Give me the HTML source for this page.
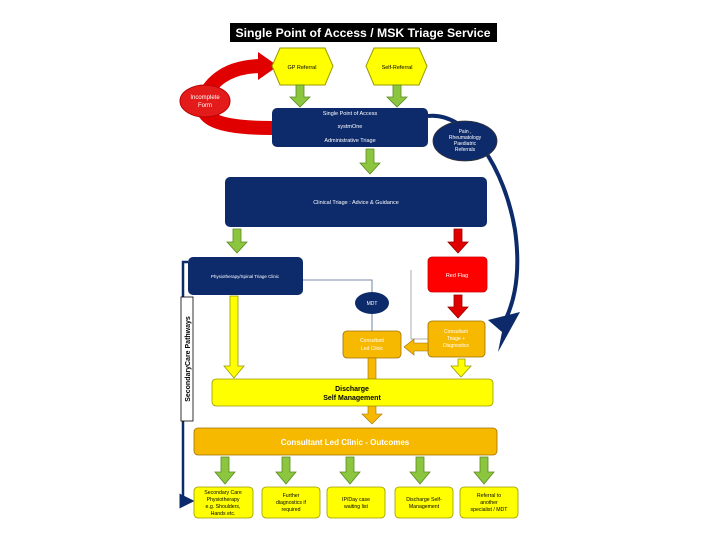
<!DOCTYPE html>
<html><head><meta charset="utf-8"><style>
html,body{margin:0;padding:0;background:#fff;}
svg{display:block;font-family:"Liberation Sans",Arial,sans-serif;}
</style></head><body>
<svg width="720" height="540" viewBox="0 0 720 540" xmlns="http://www.w3.org/2000/svg">
<defs>
<marker id="nav" markerWidth="6" markerHeight="6" refX="5" refY="3" orient="auto"><path d="M0,0L6,3L0,6z" fill="#0d2b6b"/></marker>
</defs>
<rect width="720" height="540" fill="#fff"/>
<rect x="230" y="23" width="267" height="19" fill="#000"/>
<text x="363" y="37" fill="#fff" font-size="12" font-weight="bold" text-anchor="middle" textLength="255" lengthAdjust="spacingAndGlyphs">Single Point of Access / MSK Triage Service</text>

<path d="M272,128 C220,128 190,120 208,90 C222,70 245,66 262,66" fill="none" stroke="#e00000" stroke-width="14"/>
<path d="M258,52 L278,66 L258,80 z" fill="#e00000"/>
<ellipse cx="205" cy="101" rx="25" ry="16" fill="#e41b1b" stroke="#b00" stroke-width="1"/>
<text x="205" y="99" fill="#fff" font-size="6" text-anchor="middle">Incomplete</text>
<text x="205" y="107" fill="#fff" font-size="6" text-anchor="middle">Form</text>

<polygon points="280,48 325,48 333,66 325,85 280,85 272,66" fill="#ffff00" stroke="#999900" stroke-width="1"/>
<text x="302" y="69" font-size="5.5" text-anchor="middle">GP Referral</text>
<polygon points="374,48 419,48 427,66 419,85 374,85 366,66" fill="#ffff00" stroke="#999900" stroke-width="1"/>
<text x="397" y="69" font-size="5.5" text-anchor="middle">Self-Referral</text>

<g fill="#8cc63f" stroke="#5a8a20" stroke-width="0.8">
<polygon points="296,85 304,85 304,97 310,97 300,107 290,97 296,97"/>
<polygon points="393,85 401,85 401,97 407,97 397,107 387,97 393,97"/>
<polygon points="366,149 374,149 374,163 380,163 370,174 360,163 366,163"/>
<polygon points="233,229 241,229 241,242 247,242 237,253 227,242 233,242"/>
<polygon points="221,457 229,457 229,472 235,472 225,484 215,472 221,472"/>
<polygon points="282,457 290,457 290,472 296,472 286,484 276,472 282,472"/>
<polygon points="346,457 354,457 354,472 360,472 350,484 340,472 346,472"/>
<polygon points="416,457 424,457 424,472 430,472 420,484 410,472 416,472"/>
<polygon points="480,457 488,457 488,472 494,472 484,484 474,472 480,472"/>
</g>

<path d="M428,116 C470,112 505,170 515,230 C522,280 512,310 500,330" fill="none" stroke="#0d2b6b" stroke-width="4"/>
<path d="M488,320 L520,312 L498,352 L502,332 z" fill="#0d2b6b"/>

<rect x="272" y="108" width="156" height="39" rx="5" fill="#0d2b6b"/>
<text x="350" y="115" fill="#fff" font-size="5.5" text-anchor="middle">Single Point of Access</text>
<text x="350" y="128" fill="#fff" font-size="5.5" text-anchor="middle">systmOne</text>
<text x="350" y="142" fill="#fff" font-size="5.5" text-anchor="middle">Administrative Triage</text>

<ellipse cx="465" cy="141" rx="32" ry="20" fill="#0d2b6b" stroke="#333" stroke-width="0.8"/>
<text x="465" y="133" fill="#fff" font-size="5" text-anchor="middle">Pain ,</text>
<text x="465" y="139" fill="#fff" font-size="5" text-anchor="middle">Rheumatology</text>
<text x="465" y="145" fill="#fff" font-size="5" text-anchor="middle">Paediatric</text>
<text x="465" y="151" fill="#fff" font-size="5" text-anchor="middle">Referrals</text>

<rect x="225" y="177" width="262" height="50" rx="5" fill="#0d2b6b"/>
<text x="356" y="204" fill="#fff" font-size="5.5" text-anchor="middle">Clinical Triage : Advice &amp; Guidance</text>

<polygon points="454,229 462,229 462,242 468,242 458,253 448,242 454,242" fill="#e00000" stroke="#900" stroke-width="0.8"/>
<polygon points="454,295 462,295 462,307 468,307 458,318 448,307 454,307" fill="#e00000" stroke="#900" stroke-width="0.8"/>

<polyline points="303,280 372,280 372,331" fill="none" stroke="#4a6a8a" stroke-width="0.8"/>
<polyline points="411,270 411,339 428,339" fill="none" stroke="#999" stroke-width="0.8"/>

<rect x="188" y="257" width="115" height="38" rx="5" fill="#0d2b6b"/>
<text x="245" y="278" fill="#fff" font-size="4.5" text-anchor="middle">Physiotherapy/Spinal Triage Clinic</text>

<polyline points="188,262 183,262 183,501 192,501" fill="none" stroke="#0d2b6b" stroke-width="2.5" marker-end="url(#nav)"/>
<rect x="181" y="297" width="12" height="124" fill="#fff" stroke="#000" stroke-width="0.8"/>
<text transform="translate(190,359) rotate(-90)" font-size="7" font-weight="bold" text-anchor="middle">SecondaryCare Pathways</text>

<ellipse cx="372" cy="303" rx="17" ry="11" fill="#0d2b6b"/>
<text x="372" y="305" fill="#fff" font-size="5" text-anchor="middle">MDT</text>

<rect x="428" y="257" width="59" height="35" rx="4" fill="#ff0000" stroke="#c00" stroke-width="0.8"/>
<text x="457" y="277" fill="#fff" font-size="5.5" text-anchor="middle">Red Flag</text>

<rect x="428" y="321" width="57" height="36" rx="4" fill="#f7b800" stroke="#a07000" stroke-width="0.8"/>
<text x="456" y="333" fill="#fff" font-size="5" text-anchor="middle">Consultant</text>
<text x="456" y="340" fill="#fff" font-size="5" text-anchor="middle">Triage +</text>
<text x="456" y="347" fill="#fff" font-size="5" text-anchor="middle">Diagnostics</text>

<rect x="343" y="331" width="58" height="27" rx="4" fill="#f7b800" stroke="#a07000" stroke-width="0.8"/>
<text x="372" y="342" fill="#fff" font-size="5" text-anchor="middle">Consultant</text>
<text x="372" y="350" fill="#fff" font-size="5" text-anchor="middle">Led Clinic</text>

<polygon points="428,343 414,343 414,339 404,347 414,355 414,351 428,351" fill="#f7b800" stroke="#a07000" stroke-width="0.6"/>
<rect x="368" y="358" width="8" height="21" fill="#f7b800" stroke="#a07000" stroke-width="0.6"/>
<polygon points="368,406 376,406 376,414 382,414 372,424 362,414 368,414" fill="#f7b800" stroke="#a07000" stroke-width="0.6"/>

<polygon points="230,296 238,296 238,366 244,366 234,378 224,366 230,366" fill="#ffff00" stroke="#999900" stroke-width="0.8"/>
<polygon points="458,359 465,359 465,366 471,366 461,377 451,366 458,366" fill="#ffff00" stroke="#999900" stroke-width="0.8"/>

<rect x="212" y="379" width="281" height="27" rx="4" fill="#ffff00" stroke="#999900" stroke-width="0.8"/>
<text x="352" y="391" font-size="7" font-weight="bold" text-anchor="middle">Discharge</text>
<text x="352" y="400" font-size="7" font-weight="bold" text-anchor="middle">Self Management</text>

<rect x="194" y="428" width="303" height="27" rx="4" fill="#f7b800" stroke="#a07000" stroke-width="0.8"/>
<text x="345" y="445" fill="#fff" font-size="8" font-weight="bold" text-anchor="middle">Consultant Led Clinic - Outcomes</text>

<g fill="#ffff00" stroke="#999900" stroke-width="0.8">
<rect x="194" y="487" width="59" height="31" rx="4"/>
<rect x="262" y="487" width="58" height="31" rx="4"/>
<rect x="327" y="487" width="58" height="31" rx="4"/>
<rect x="395" y="487" width="58" height="31" rx="4"/>
<rect x="460" y="487" width="58" height="31" rx="4"/>
</g>
<g font-size="5.2" text-anchor="middle">
<text x="223" y="494">Secondary Care</text><text x="223" y="501">Physiotherapy</text><text x="223" y="508">e.g. Shoulders,</text><text x="223" y="515">Hands etc.</text>
<text x="291" y="497">Further</text><text x="291" y="504">diagnostics if</text><text x="291" y="511">required</text>
<text x="356" y="501">IP/Day case</text><text x="356" y="508">waiting list</text>
<text x="424" y="501">Discharge Self-</text><text x="424" y="508">Management</text>
<text x="489" y="497">Referral to</text><text x="489" y="504">another</text><text x="489" y="511">specialist / MDT</text>
</g>
</svg>
</body></html>
